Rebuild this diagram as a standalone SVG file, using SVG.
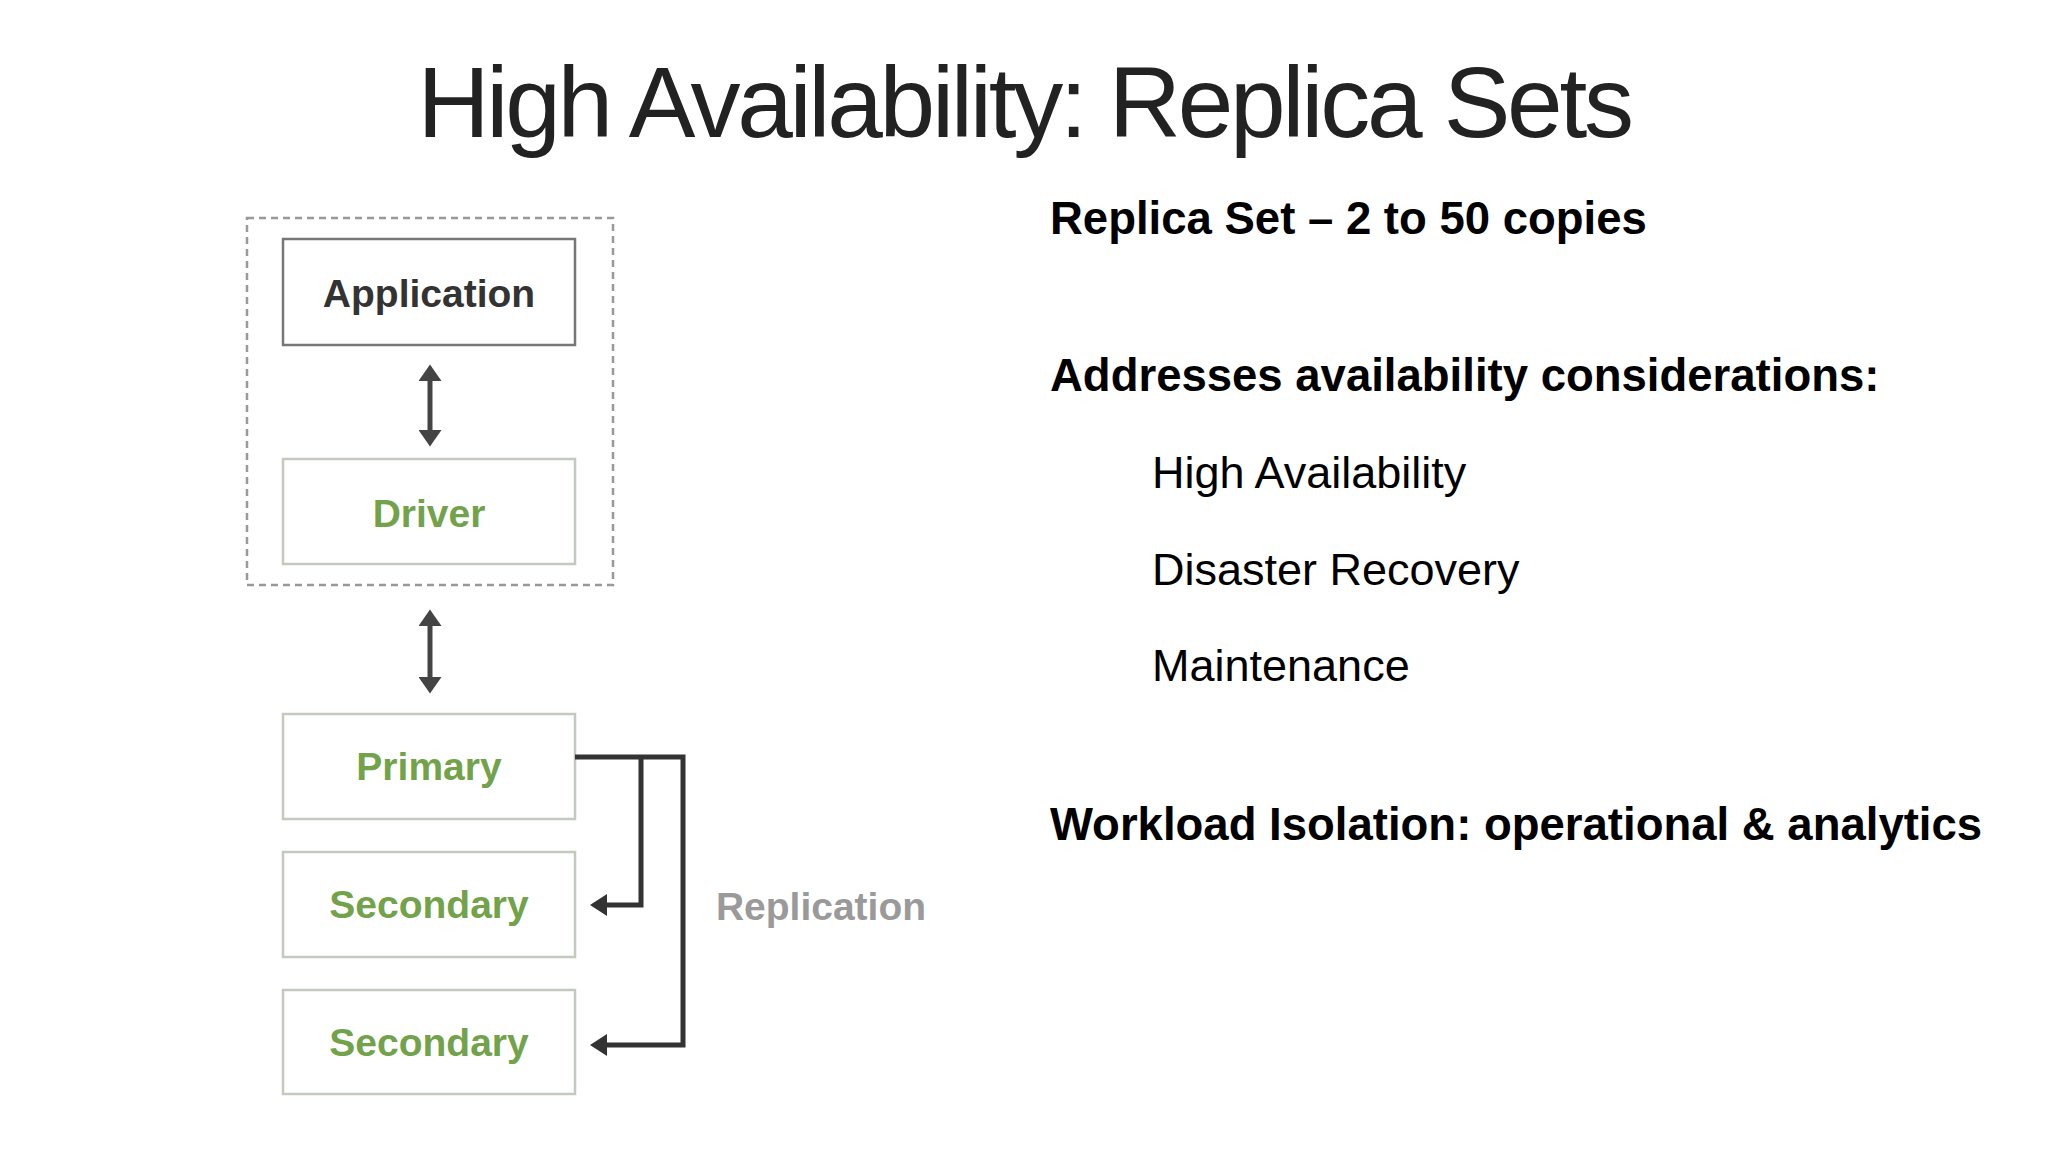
<svg xmlns="http://www.w3.org/2000/svg" width="2048" height="1152" viewBox="0 0 2048 1152">
  <defs>
    <style>
      .title { font-family: "Liberation Sans", Arial, sans-serif; font-size: 100px; fill: #222; letter-spacing: -3.3px; }
      .bold { font-family: "Liberation Sans", Arial, sans-serif; font-size: 45.5px; font-weight: bold; fill: #000; }
      .reg { font-family: "Liberation Sans", Arial, sans-serif; font-size: 45px; fill: #000; }
      .lbl { font-family: "Liberation Sans", Arial, sans-serif; font-size: 39px; font-weight: bold; text-anchor: middle; }
      .dark { fill: #333; }
      .green { fill: #72a24a; }
      .gray { fill: #9a9a9a; }
      .boxd { fill: #fff; stroke: #777; stroke-width: 2.5; }
      .boxg { fill: #fff; stroke: #c4c9c0; stroke-width: 2.5; }
      .conn { fill: none; stroke: #333; stroke-width: 5; }
      .arr { fill: none; stroke: #444; stroke-width: 5; }
    </style>
    <marker id="head" markerWidth="4.4" markerHeight="4.4" refX="0.6" refY="2.2" orient="auto-start-reverse" markerUnits="strokeWidth">
      <path d="M0,0 L3.4,2.2 L0,4.4 Z" fill="#333"/>
    </marker>
    <marker id="vhead" markerWidth="4.6" markerHeight="4.6" refX="0.6" refY="2.3" orient="auto-start-reverse" markerUnits="strokeWidth">
      <path d="M0,0 L3.3,2.3 L0,4.6 Z" fill="#444"/>
    </marker>
  </defs>
  <rect x="0" y="0" width="2048" height="1152" fill="#fff"/>

  <text class="title" x="1024" y="137" text-anchor="middle">High Availability: Replica Sets</text>

  <g id="text-panel">
    <text class="bold" x="1050" y="234">Replica Set – 2 to 50 copies</text>
    <text class="bold" x="1050" y="391">Addresses availability considerations:</text>
    <text class="reg" x="1152" y="488">High Availability</text>
    <text class="reg" x="1152" y="585">Disaster Recovery</text>
    <text class="reg" x="1152" y="681">Maintenance</text>
    <text class="bold" x="1050" y="840">Workload Isolation: operational &amp; analytics</text>
  </g>

  <g id="client-group">
    <rect x="247" y="218" width="366" height="367" fill="none" stroke="#999" stroke-width="2.5" stroke-dasharray="7 5"/>
  </g>

  <g id="application">
    <rect class="boxd" x="283" y="239" width="292" height="106"/>
    <text class="lbl dark" x="429" y="307">Application</text>
  </g>
  <g id="driver">
    <rect class="boxg" x="283" y="459" width="292" height="105"/>
    <text class="lbl green" x="429" y="527">Driver</text>
  </g>
  <g id="primary">
    <rect class="boxg" x="283" y="714" width="292" height="105"/>
    <text class="lbl green" x="429" y="780">Primary</text>
  </g>
  <g id="secondary1">
    <rect class="boxg" x="283" y="852" width="292" height="105"/>
    <text class="lbl green" x="429" y="918">Secondary</text>
  </g>
  <g id="secondary2">
    <rect class="boxg" x="283" y="990" width="292" height="104"/>
    <text class="lbl green" x="429" y="1056">Secondary</text>
  </g>
  <g id="replication-label">
    <text class="lbl gray" x="821" y="920">Replication</text>
  </g>

  <g id="connectors">
    <line class="arr" x1="430" y1="378" x2="430" y2="433" marker-start="url(#vhead)" marker-end="url(#vhead)"/>
    <line class="arr" x1="430" y1="623" x2="430" y2="680" marker-start="url(#vhead)" marker-end="url(#vhead)"/>
    <path class="conn" d="M575,757 H683 V1045 H604" marker-end="url(#head)"/>
    <path class="conn" d="M641,757 V905 H604" marker-end="url(#head)"/>
  </g>
</svg>
